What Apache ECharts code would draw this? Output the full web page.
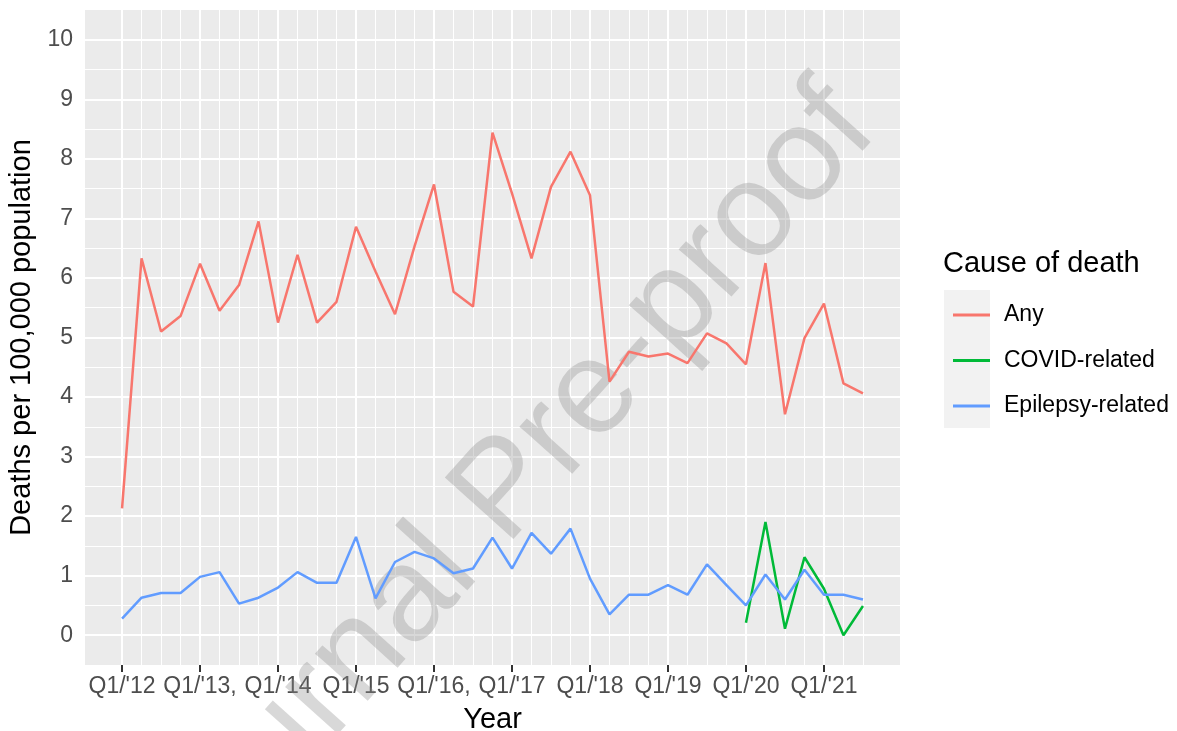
<!DOCTYPE html>
<html>
<head>
<meta charset="utf-8">
<title>Deaths per 100,000 population</title>
<script src="https://cdn.jsdelivr.net/npm/echarts@6/dist/echarts.min.js"></script>
<style>
  html, body { margin: 0; padding: 0; background: #fff; }
  #chart { width: 1177px; height: 731px; }
</style>
</head>
<body>
<div id="chart"></div>
<script>
const quarters = [
  "Q1/'12", "Q2/'12", "Q3/'12", "Q4/'12",
  "Q1/'13", "Q2/'13", "Q3/'13", "Q4/'13",
  "Q1/'14", "Q2/'14", "Q3/'14", "Q4/'14",
  "Q1/'15", "Q2/'15", "Q3/'15", "Q4/'15",
  "Q1/'16", "Q2/'16", "Q3/'16", "Q4/'16",
  "Q1/'17", "Q2/'17", "Q3/'17", "Q4/'17",
  "Q1/'18", "Q2/'18", "Q3/'18", "Q4/'18",
  "Q1/'19", "Q2/'19", "Q3/'19", "Q4/'19",
  "Q1/'20", "Q2/'20", "Q3/'20", "Q4/'20",
  "Q1/'21", "Q2/'21", "Q3/'21"
]

// tick labels shown under the first quarter of each year
const yearTickLabels = ["Q1/'12", "Q1/'13,", "Q1/'14", "Q1/'15", "Q1/'16,", "Q1/'17", "Q1/'18", "Q1/'19", "Q1/'20", "Q1/'21"]
const yTicks = [0, 1, 2, 3, 4, 5, 6, 7, 8, 9, 10]

const anyDeaths = [
  2.13, 6.33, 5.10, 5.36, 6.24, 5.45, 5.88, 6.95,
  5.25, 6.39, 5.25, 5.60, 6.86, 6.11, 5.39, 6.53,
  7.57, 5.77, 5.52, 8.44, 7.42, 6.33, 7.53, 8.12,
  7.39, 4.26, 4.76, 4.68, 4.73, 4.57, 5.07, 4.90,
  4.55, 6.25, 3.71, 4.99, 5.57, 4.23, 4.06
]

const covidDeaths = [
  null, null, null, null, null, null, null, null,
  null, null, null, null, null, null, null, null,
  null, null, null, null, null, null, null, null,
  null, null, null, null, null, null, null, null,
  0.21, 1.90, 0.11, 1.31, 0.78, 0.00, 0.49
]

const epilepsyDeaths = [
  0.28, 0.63, 0.71, 0.71, 0.98, 1.06, 0.53, 0.63,
  0.80, 1.06, 0.88, 0.88, 1.65, 0.62, 1.23, 1.40,
  1.29, 1.04, 1.12, 1.64, 1.12, 1.72, 1.37, 1.79,
  0.95, 0.35, 0.68, 0.68, 0.84, 0.68, 1.19, 0.84,
  0.50, 1.02, 0.60, 1.10, 0.68, 0.68, 0.60
]

const seriesNames = ['Any', 'COVID-related', 'Epilepsy-related']
const seriesColors = ['#F8766D', '#00BA38', '#619CFF']

const FONT = "'Liberation Sans', Helvetica, Arial, sans-serif"

const chart = echarts.init(document.getElementById('chart'))

const yearTickPos = yearTickLabels.map(l => quarters.indexOf(l.replace(',', '')))

const toPoints = arr => arr.map((v, i) => [i, v])

// panel grid: every quarter vertically, halves horizontally
const gridLines = []
quarters.forEach((q, i) => {
  gridLines.push({ xAxis: i, lineStyle: { width: q.startsWith('Q1') ? 2 : 1 } })
})
for (let v = 0.5; v < 10; v += 1) {
  gridLines.push({ yAxis: v, lineStyle: { width: 1 } })
}
yTicks.forEach(v => {
  gridLines.push({ yAxis: v, lineStyle: { width: 2 } })
})

const lineSeries = (name, data, color) => ({
  name,
  type: 'line',
  data: toPoints(data),
  symbol: 'none',
  z: 5,
  lineStyle: { color, width: 2.5 },
  itemStyle: { color }
})

const option = {
  animation: false,
  textStyle: { fontFamily: FONT },
  title: {
    text: 'Cause of death',
    left: 938,
    top: 244,
    textStyle: { fontFamily: FONT, fontSize: 29, fontWeight: 'normal', color: '#000' }
  },
  legend: {
    data: seriesNames,
    orient: 'vertical',
    left: 948,
    top: 298,
    icon: 'rect',
    itemWidth: 37,
    itemHeight: 3,
    itemGap: 21.5,
    textStyle: { fontFamily: FONT, fontSize: 23, color: '#000', lineHeight: 24, padding: [0, 0, 0, 9] }
  },
  grid: {
    left: 85,
    right: 277,
    top: 10,
    bottom: 66,
    show: true,
    backgroundColor: '#EBEBEB',
    borderWidth: 0,
    containLabel: false,
    outerBoundsMode: 'none'
  },
  xAxis: {
    type: 'value',
    min: -1.9,
    max: 39.9,
    name: 'Year',
    nameLocation: 'middle',
    nameGap: 40,
    nameTextStyle: { fontFamily: FONT, fontSize: 29, color: '#000' },
    axisLine: { show: false, onZero: false },
    axisTick: { show: true, length: 7, customValues: yearTickPos, lineStyle: { color: '#333', width: 2 } },
    axisLabel: {
      customValues: yearTickPos,
      margin: 10,
      fontFamily: FONT,
      fontSize: 23,
      color: '#4D4D4D',
      formatter: v => yearTickLabels[yearTickPos.indexOf(v)] || ''
    },
    splitLine: { show: false }
  },
  yAxis: {
    type: 'value',
    min: -0.5,
    max: 10.5,
    name: 'Deaths per 100,000 population',
    nameLocation: 'middle',
    nameGap: 48,
    nameRotate: 90,
    nameTextStyle: { fontFamily: FONT, fontSize: 29, color: '#000' },
    axisLine: { show: false },
    axisTick: { show: true, length: 7, customValues: yTicks, lineStyle: { color: '#333', width: 2 } },
    axisLabel: { customValues: yTicks, margin: 12, fontFamily: FONT, fontSize: 23, color: '#4D4D4D' },
    splitLine: { show: false }
  },
  graphic: [
    {
      type: 'rect',
      left: 944,
      top: 290,
      shape: { width: 46, height: 138 },
      style: { fill: '#F2F2F2' },
      z: -1
    },
    {
      // watermark, below the data lines
      type: 'text',
      x: 506,
      y: 492,
      rotation: 0.838,
      z: 3,
      silent: true,
      style: {
        text: 'Journal Pre-proof',
        font: "134px 'Liberation Sans', Helvetica, Arial, sans-serif",
        fill: 'rgba(140,140,140,0.34)',
        align: 'center',
        verticalAlign: 'middle'
      }
    }
  ],
  series: [
    {
      name: 'panel grid',
      type: 'line',
      data: [],
      z: 1,
      silent: true,
      markLine: {
        silent: true,
        z: 1,
        symbol: 'none',
        label: { show: false },
        animation: false,
        lineStyle: { color: '#FFFFFF', type: 'solid' },
        data: gridLines
      }
    },
    lineSeries(seriesNames[0], anyDeaths, seriesColors[0]),
    lineSeries(seriesNames[1], covidDeaths, seriesColors[1]),
    lineSeries(seriesNames[2], epilepsyDeaths, seriesColors[2])
  ]
}

chart.setOption(option)
</script>
</body>
</html>
